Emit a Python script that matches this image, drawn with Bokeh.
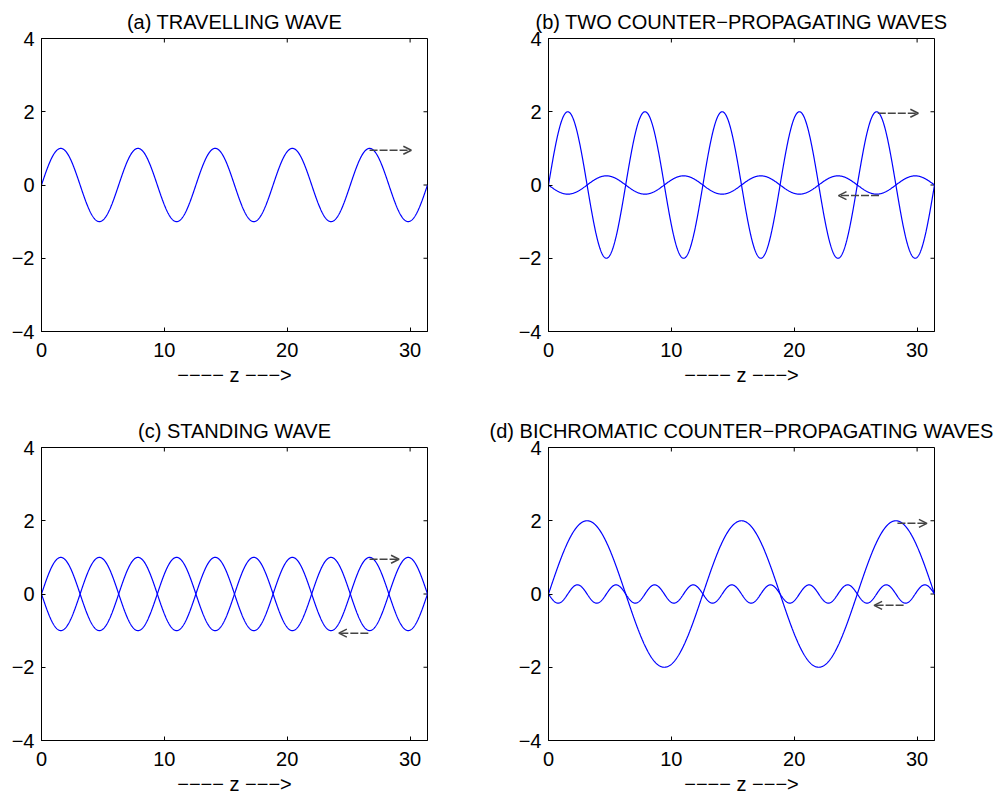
import numpy as np
from bokeh.plotting import figure
from bokeh.models import Range1d, FixedTicker, Arrow, OpenHead
from bokeh.layouts import column, row
from bokeh.embed import file_html
from bokeh.resources import INLINE

# ---- data ----
titles = ["(a) TRAVELLING WAVE",
          "(b) TWO COUNTER\u2212PROPAGATING WAVES",
          "(c) STANDING WAVE",
          "(d) BICHROMATIC COUNTER\u2212PROPAGATING WAVES"]
z_max = 10 * np.pi
# wave amplitudes and wavenumbers (one entry per curve)
amps_a = [1.0]
kz_a = [1.0]
amps_b = [2.0, -0.25]
kz_b = [1.0, 1.0]
amps_c = [1.0, -1.0]
kz_c = [1.0, 1.0]
amps_d = [2.0, -0.25]
kz_d = [0.5, 2.0]
# direction arrows: (z start, z end, y)
arrows_a = [(26.7, 30.1, 0.95)]
arrows_b = [(26.8, 30.1, 1.96), (26.9, 23.6, -0.29)]
arrows_c = [(26.7, 29.1, 0.95), (26.6, 24.2, -1.07)]
arrows_d = [(28.4, 30.8, 1.93), (28.9, 26.5, -0.31)]
x_ticks = [0, 10, 20, 30]
y_ticks = [-4, -2, 0, 2, 4]
y_tick_labels = {-4: "\u22124", -2: "\u22122", 0: "0", 2: "2", 4: "4"}
xlabel = "\u2212\u2212\u2212\u2212 z \u2212\u2212\u2212>"

FONT = "Liberation Sans"
FS = "20px"
z = np.linspace(0, z_max, 1200)


def make(title, amps, kzs, arrows, bl, br, bt, bb):
    p = figure(frame_width=386, frame_height=293,
               x_range=Range1d(0, z_max), y_range=Range1d(y_ticks[0], y_ticks[-1]),
               output_backend="svg", toolbar_location=None,
               min_border_left=bl, min_border_right=br,
               min_border_top=bt, min_border_bottom=bb,
               title=title)
    p.title.align = "center"
    p.title.text_font = FONT
    p.title.text_font_size = FS
    p.title.text_font_style = "normal"
    p.title.text_color = "black"
    p.title.standoff = 12
    p.grid.visible = False
    p.outline_line_color = "black"
    p.outline_line_width = 1
    p.background_fill_color = "white"
    p.border_fill_color = "white"

    for ax in p.xaxis:
        ax.ticker = FixedTicker(ticks=x_ticks)
        ax.axis_label = xlabel
        ax.axis_label_standoff = 4
        ax.major_label_standoff = 11
    for ax in p.yaxis:
        ax.ticker = FixedTicker(ticks=y_ticks)
        ax.major_label_overrides = y_tick_labels
        ax.major_label_standoff = 7

    for ax in p.axis:
        ax.major_tick_in = 4
        ax.major_tick_out = 0
        ax.minor_tick_in = 0
        ax.minor_tick_out = 0
        ax.axis_line_color = "black"
        ax.major_tick_line_color = "black"
        ax.major_label_text_font = FONT
        ax.major_label_text_font_size = FS
        ax.major_label_text_color = "black"
        ax.axis_label_text_font = FONT
        ax.axis_label_text_font_size = FS
        ax.axis_label_text_font_style = "normal"
        ax.axis_label_text_color = "black"

    # inward ticks on the top and right edges of the box (clipped to the frame)
    p.scatter(x_ticks, [y_ticks[-1]] * len(x_ticks), marker="dash", size=8,
              angle=np.pi / 2, line_color="black", line_width=1)
    p.scatter([z_max] * len(y_ticks), y_ticks, marker="dash", size=8,
              line_color="black", line_width=1)

    for a, k in zip(amps, kzs):
        p.line(z, a * np.sin(k * z), line_color="#0000ff", line_width=1.2)

    for x0, x1, y in arrows:
        p.add_layout(Arrow(x_start=x0, y_start=y, x_end=x1, y_end=y,
                           line_color="#444444", line_width=1.5, line_dash="8 2",
                           end=OpenHead(size=8, line_color="#444444", line_width=1.5)))
    return p


pa = make(titles[0], amps_a, kz_a, arrows_a, 41, 40, 38, 66)
pb = make(titles[1], amps_b, kz_b, arrows_b, 81, 66, 38, 66)
pc = make(titles[2], amps_c, kz_c, arrows_c, 41, 40, 50, 54)
pd = make(titles[3], amps_d, kz_d, arrows_d, 81, 66, 50, 54)

layout = column(row(pa, pb), row(pc, pd))
open("out.html", "w").write(file_html(layout, INLINE))
